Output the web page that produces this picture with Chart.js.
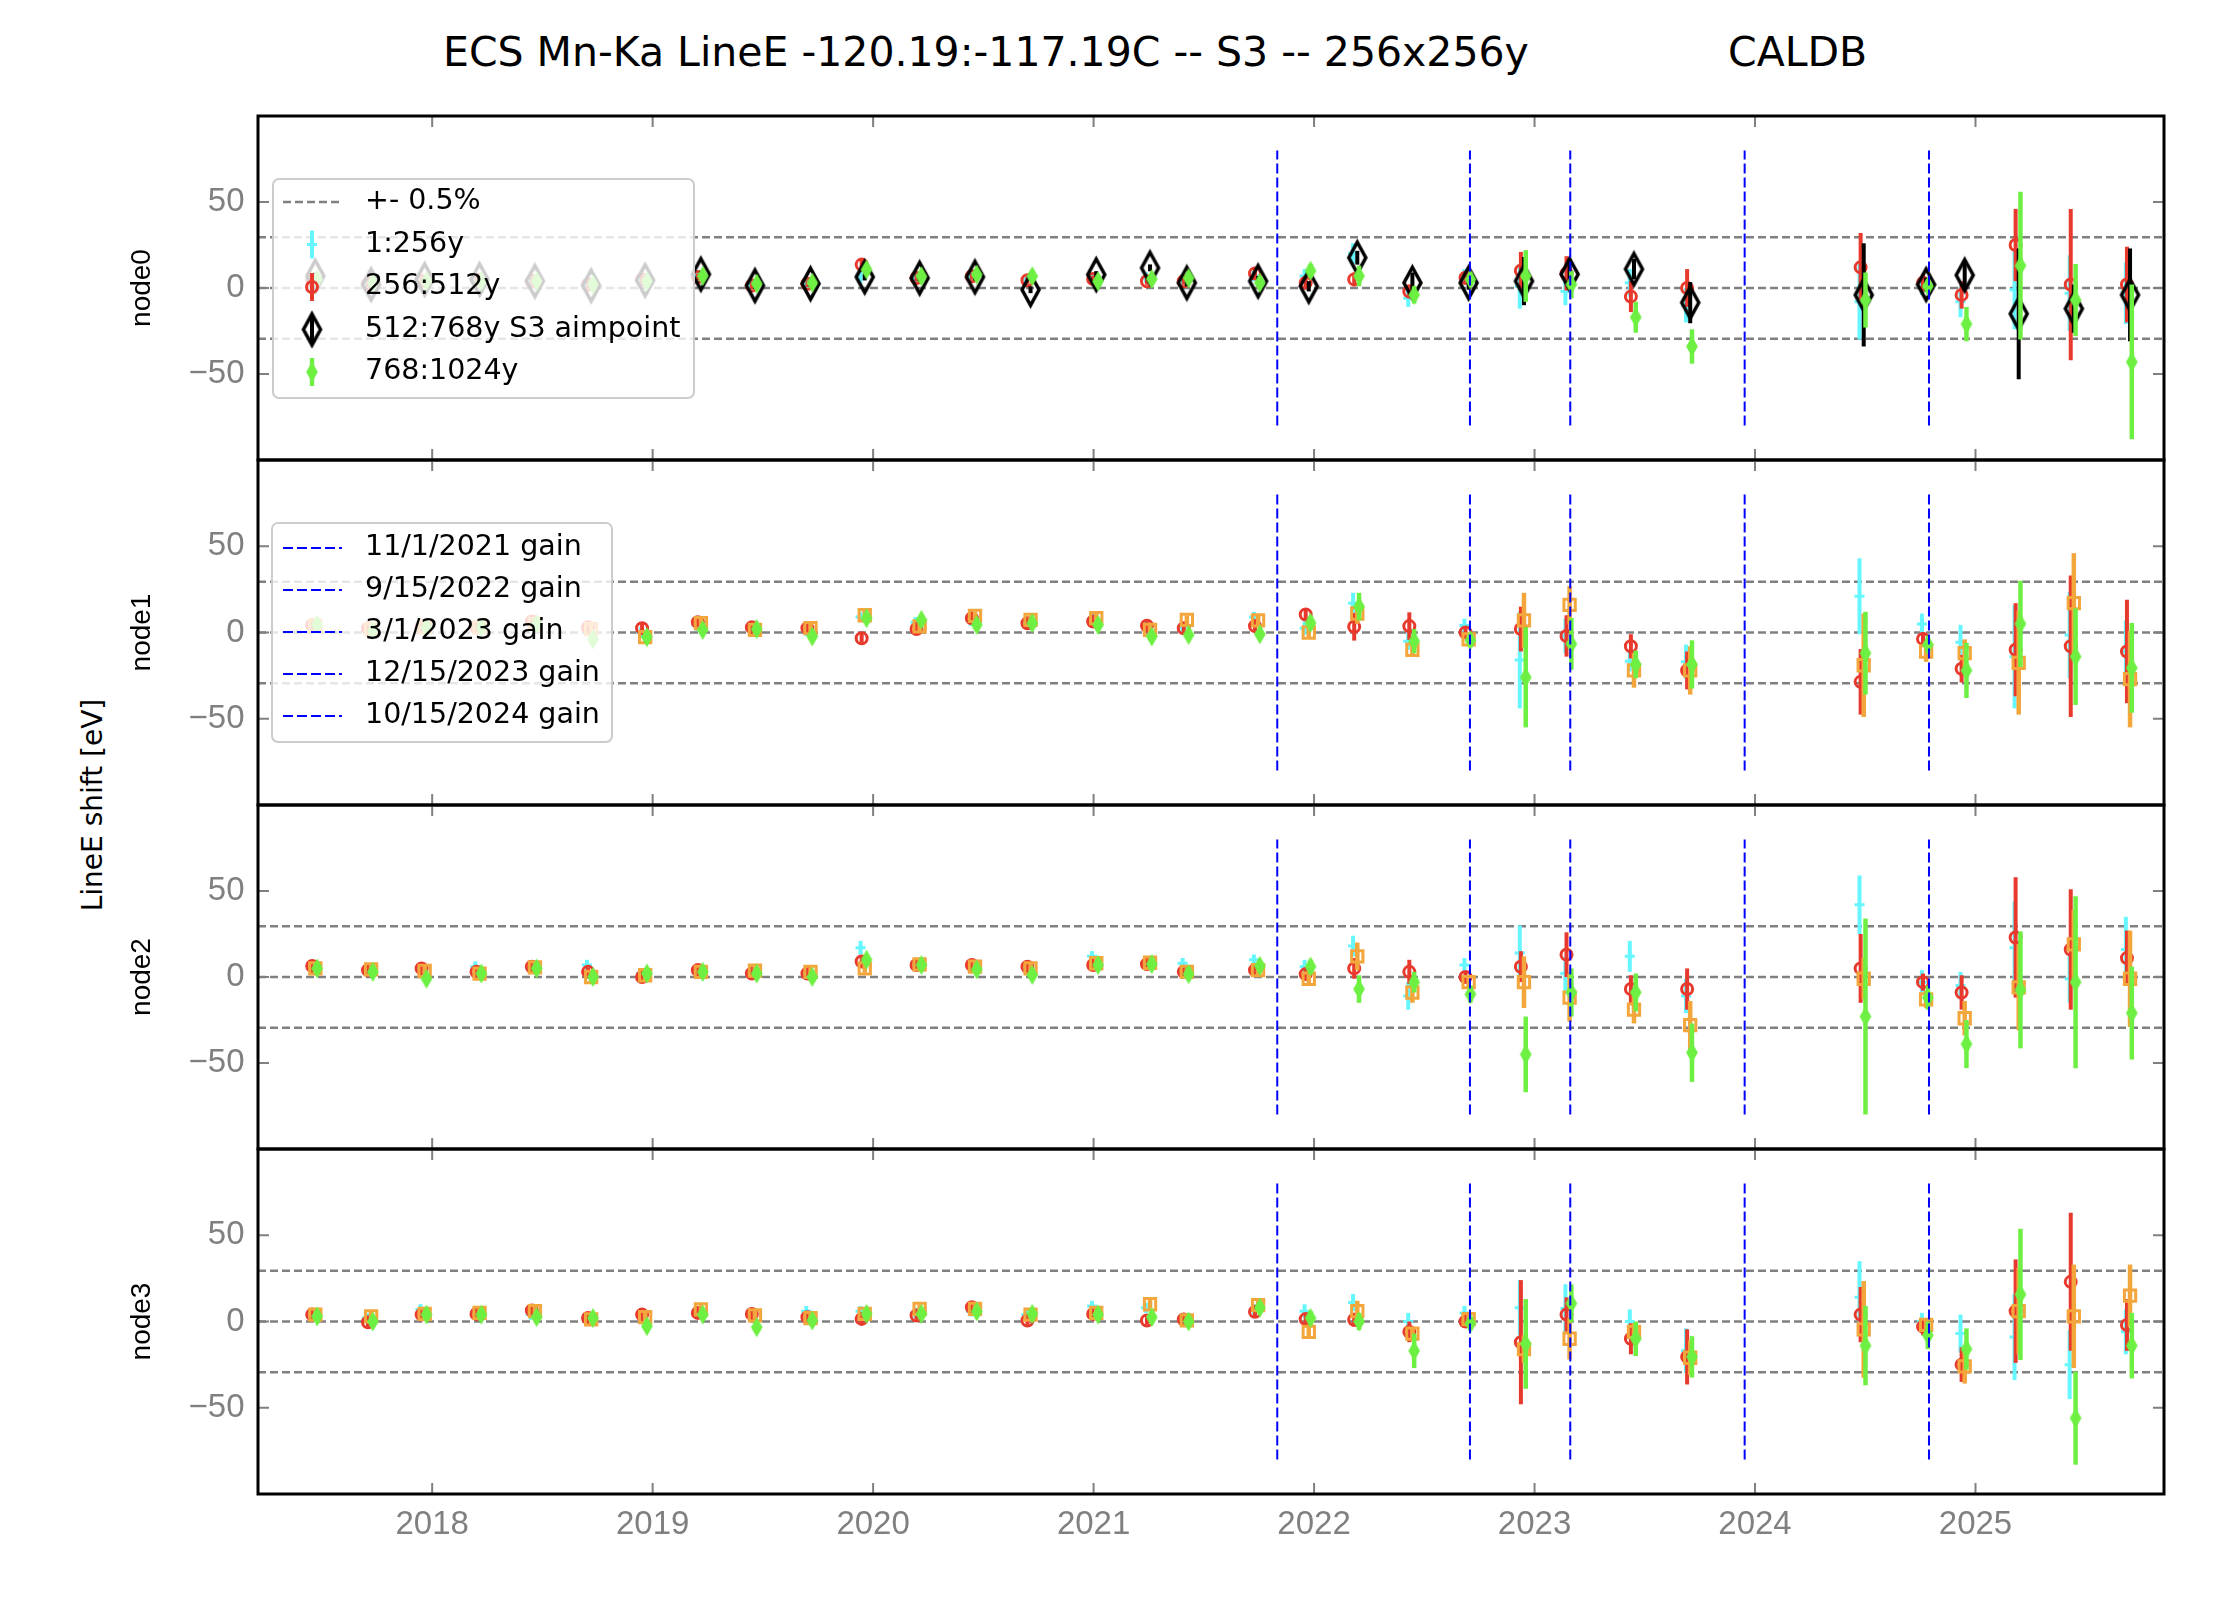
<!DOCTYPE html>
<html>
<head>
<meta charset="utf-8">
<script src="https://cdn.jsdelivr.net/npm/chart.js@4.4.1/dist/chart.umd.min.js"></script>
<style>
  body { margin: 0; background: #fff; width: 2222px; height: 1622px; position: relative; overflow: hidden; font-family: "DejaVu Sans", sans-serif; }
  canvas { position: absolute; left: 0; }
  .ttl { position: absolute; font-size: 41px; line-height: 41px; white-space: pre; color: #000; }
  #ylab { position: absolute; left: 92px; top: 805px; font-size: 28px; white-space: nowrap; transform: translate(-50%, -50%) rotate(-90deg); }
</style>
</head>
<body>
<div class="ttl" style="left:443px; top:32px;">ECS Mn-Ka LineE -120.19:-117.19C -- S3 -- 256x256y</div>
<div class="ttl" style="left:1728px; top:32px;">CALDB</div>
<div id="ylab">LineE shift [eV]</div>
<canvas id="c0"></canvas>
<canvas id="c1"></canvas>
<canvas id="c2"></canvas>
<canvas id="c3"></canvas>
<script>
// observation epochs (decimal year)
const epochs = [2017.464, 2017.717, 2017.96, 2018.209, 2018.46, 2018.715, 2018.96, 2019.213, 2019.458, 2019.71,
  2019.956, 2020.205, 2020.456, 2020.708, 2021.006, 2021.25, 2021.417, 2021.74, 2021.97, 2022.19,
  2022.44, 2022.695, 2022.946, 2023.153, 2023.445, 2023.70, 2024.487, 2024.77, 2024.945, 2025.19,
  2025.44, 2025.695];

const xTickYears = [2018, 2019, 2020, 2021, 2022, 2023, 2024, 2025];
const yTickValues = [-50, 0, 50];
const halfPercent = [-29.49, 0, 29.49];
const gainDates = [2021.833, 2022.707, 2023.162, 2023.953, 2024.789];
const gainLabels = ["11/1/2021 gain", "9/15/2022 gain", "3/1/2023 gain", "12/15/2023 gain", "10/15/2024 gain"];
const nodeNames = ["node0", "node1", "node2", "node3"];

// node0: 1:256y, 256:512y, 512:768y (S3 aimpoint), 768:1024y
const n0c  = [5, 3, 5, 5, 4, 2, 4, 6, 2, 3, 7, 6, 6, 5, 6, 6, 5, 7, 7, 20, -6, 7, 1, -2, 3, -10, -8, 1, -8, -1, -3, -3];
const n0cE = [3, 3, 3, 3, 3, 3, 3, 3, 3, 3, 4, 3, 3, 3, 3, 3, 3, 3, 4, 6, 5, 4, 13, 8, 8, 10, 22, 5, 9, 23, 22, 18];
const n0r  = [4, 2.5, 4, 5, 4, 2, 5, 6.4, 1.4, 2.5, 13.6, 5.8, 6.8, 4.5, 5.2, 3.9, 3.9, 8.5, 3, 5, -2, 6, 10, 8.5, -5, 0, 12, 3, -4, 25, 2, 2];
const n0rE = [2, 2, 2, 2, 2, 2, 2, 2, 2, 2, 3, 2, 2, 2, 2, 2, 2, 3, 3, 4, 4, 4, 11, 10, 9, 11, 20, 5, 8, 21, 44, 22];
const n0k  = [7, 2, 5, 5, 4, 1.4, 4.5, 8, 1.4, 2.5, 6.4, 5.8, 6.4, -1, 7.8, 11.7, 3, 4, 1, 17.6, 3, 3, 4, 8, 11, -8.5, -4, 2, 7.5, -15, -12, -4];
const n0kE = [2, 2, 2, 2, 2, 2, 2, 2, 2, 2, 2, 2, 2, 2, 2, 2, 2, 3, 3, 4, 6, 4, 14, 9, 6, 12, 30, 4, 8, 38, 14, 27];
const n0g  = [5, 3, 4, 4, 4, 2, 4, 7, 2.5, 3, 10.7, 6.8, 7.8, 6.8, 3.9, 5.2, 5.8, 3, 10, 7, -4, 5, 7, 2, -17, -34, -7, 1, -21, 13, -7, -43];
const n0gE = [2, 2, 2, 2, 2, 2, 2, 2, 2, 2, 3, 2, 2, 2, 2, 2, 2, 3, 4, 6, 5, 4, 15, 8, 9, 10, 16, 4, 10, 43, 21, 45];

// node1
const n1c  = [4, 2, 3, 3, 5, 2, 0, 4, 2, 1, 9, 6, 7, 6, 8, 4, 3, 9, 2.5, 17, -5, 4, -16, -2, -16.6, -17, 21, 5, -5.6, -14, -1.5, -11];
const n1cE = [3, 3, 3, 3, 3, 3, 3, 3, 3, 3, 3, 3, 3, 3, 3, 3, 3, 3, 4, 6, 5, 4, 28, 10, 6, 10, 22, 6, 10, 30, 25, 18];
const n1r  = [4.4, 2.5, 3.5, 3, 6.4, 3, 2.5, 6, 3, 2.5, -3.3, 2, 8.3, 5.4, 6.4, 3.9, 2.5, 3.7, 10.4, 3.3, 3.7, 0, 2, -2, -8, -22, -28.6, -3.7, -21, -10, -8, -11];
const n1rE = [2.5, 2.5, 2.5, 2.5, 2.5, 2.5, 2.5, 2.5, 2.5, 2.5, 2.5, 2.5, 2.5, 2.5, 2.5, 2.5, 2.5, 3, 3, 8, 8, 3, 13, 12, 7, 11, 19, 4, 8, 27, 41, 30];
const n1o  = [4, 2, 3, 3, 5, 2, -2.7, 5.4, 1.5, 2.5, 10, 3.5, 9.6, 7.3, 8.3, 1.5, 7.3, 7, 0, 11, -10, -4, 7, 16, -22, -22, -19, -11, -12, -17.6, 17, -27];
const n1oE = [2.5, 2.5, 2.5, 2.5, 2.5, 2.5, 2.5, 2.5, 2.5, 2.5, 2.5, 2.5, 2.5, 2.5, 2.5, 2.5, 2.5, 3, 3, 6, 4, 3, 16, 11, 10, 14, 30, 6, 8, 30, 29, 28];
const n1g  = [4.4, 1, 3, 3, 5, -4, -2.7, 1.5, 2, -2.3, 8.3, 7.3, 4.4, 5.4, 4.4, -2.3, -1.4, -1, 5.6, 15, -5, -4.5, -26, -6.6, -18.5, -18.5, -12, -7, -22, 5, -14, -20.5];
const n1gE = [2.5, 2.5, 2.5, 2.5, 2.5, 2.5, 2.5, 2.5, 2.5, 2.5, 2.5, 2.5, 2.5, 2.5, 2.5, 2.5, 2.5, 3, 4, 8, 7, 4, 29, 15, 8, 14, 24, 5, 16, 25, 28, 26];

// node2
const n2c  = [5, 4, 4, 6, 5, 7, 2, 4, 3, 2, 17, 7, 6, 5, 12, 7, 8, 10, 6, 18, -11, 7, 14, 2, 12, -11, 42, -3, -5, 17, -1, 16];
const n2cE = [3, 3, 3, 3, 3, 3, 3, 3, 3, 3, 4, 3, 3, 3, 3, 3, 3, 3, 4, 6, 8, 4, 16, 10, 9, 10, 17, 7, 8, 27, 14, 19];
const n2r  = [6.4, 4, 5, 3, 6, 3, 0, 4, 2, 2, 9, 7, 7, 6, 7, 7.5, 3, 4, 1.7, 5, 3, 0, 6, 13, -7, -7, 5, -3, -9, 23, 16, 11];
const n2rE = [2.5, 2.5, 2.5, 2.5, 2.5, 2.5, 2.5, 2.5, 2.5, 2.5, 2.5, 2.5, 2.5, 2.5, 2.5, 2.5, 2.5, 3, 3, 6, 7, 3, 9, 13, 8, 12, 20, 5, 10, 35, 35, 16];
const n2o  = [5, 4.4, 3.5, 2, 5.6, 0, 1, 3, 3.7, 3, 5, 7.3, 6, 5, 8, 8.3, 3, 4, -1, 12, -9, -3, -3, -12, -19, -28, -1, -13, -24, -6, 19, -1];
const n2oE = [2.5, 2.5, 2.5, 2.5, 2.5, 2.5, 2.5, 2.5, 2.5, 2.5, 2.5, 2.5, 2.5, 2.5, 2.5, 2.5, 2.5, 3, 3, 8, 6, 4, 15, 14, 8, 14, 12, 5, 10, 25, 20, 28];
const n2g  = [5, 3, -1, 2, 5, 0, 2, 3, 2, 0, 10, 7, 4.4, 1.2, 7, 7.5, 1.7, 6.4, 6, -7, -3, -10, -45, -9, -9, -44, -23, -12, -39, -7.5, -3, -21];
const n2gE = [2.5, 2.5, 2.5, 2.5, 2.5, 2.5, 2.5, 2.5, 2.5, 2.5, 2.5, 2.5, 2.5, 2.5, 2.5, 2.5, 2.5, 3, 4, 8, 6, 5, 22, 14, 11, 17, 57, 7, 14, 34, 50, 27];

// node3
const n3c  = [4, 2, 7, 5, 4, 2, 3, 5, 4, 6, 6, 5, 6, 4, 9, 8, 2, 7, 6, 11, 0, 5, 8, 7.6, 0, -17, 14, 0, -7, -9, -25, -6];
const n3cE = [3, 3, 3, 3, 3, 3, 3, 3, 3, 3, 3, 3, 3, 3, 3, 3, 3, 3, 4, 5, 5, 4, 16, 14, 7, 13, 21, 5, 11, 25, 20, 13];
const n3r  = [4, -0.4, 4, 4.4, 6.4, 2, 4, 5, 4.4, 2.5, 1.5, 3.5, 8.3, 0.6, 4.4, 0.6, 1.2, 5.6, 1.4, 1, -6, 0, -12, 4, -10, -20.5, 4, -3, -25, 6, 23, -2];
const n3rE = [2.5, 2.5, 2.5, 2.5, 2.5, 2.5, 2.5, 2.5, 2.5, 2.5, 2.5, 2.5, 2.5, 2.5, 2.5, 2.5, 2.5, 3, 3, 4, 6, 3, 36, 10, 9, 16, 16, 5, 10, 30, 40, 15];
const n3o  = [4, 3, 4.4, 5, 6, 1.2, 2.5, 7, 3.5, 2, 4.4, 7.3, 7.3, 4, 5, 10, 0.6, 9.5, -6, 6, -7, 1.4, -16, -10, -6, -21, -4.6, -2, -26, 6, 3, 15];
const n3oE = [2.5, 2.5, 2.5, 2.5, 2.5, 2.5, 2.5, 2.5, 2.5, 2.5, 2.5, 2.5, 2.5, 2.5, 2.5, 2.5, 2.5, 3, 3, 6, 4, 3, 8, 12, 5, 10, 28, 4, 10, 25, 30, 18];
const n3g  = [3, 0, 4, 4, 2.5, 2, -2.7, 4, -3.3, 0.6, 4.4, 4.4, 5.8, 4.4, 4, 2.5, 0, 8, 2, 0, -17, -1, -13, 10.5, -10, -20.5, -14, -8, -16, 15.7, -56, -14];
const n3gE = [2.5, 2.5, 2.5, 2.5, 2.5, 2.5, 2.5, 2.5, 2.5, 2.5, 2.5, 2.5, 2.5, 2.5, 2.5, 2.5, 2.5, 3, 4, 5, 10, 4, 26, 11, 10, 12, 23, 8, 12, 38, 27, 19];

const X_MIN = 2017.21, X_MAX = 2025.855;
const panelTops = [116, 460, 805, 1149];
const panelBottoms = [460, 805, 1149, 1494];

// tall thin diamond marker drawn once into a small canvas
function diamond(w, h, stroke, fill, lw) {
  const c = document.createElement("canvas");
  c.width = Math.ceil(w + lw * 4);
  c.height = Math.ceil(h + lw * 5);
  const g = c.getContext("2d");
  const cx = c.width / 2, cy = c.height / 2;
  g.beginPath();
  g.moveTo(cx, cy - h / 2);
  g.lineTo(cx + w / 2, cy);
  g.lineTo(cx, cy + h / 2);
  g.lineTo(cx - w / 2, cy);
  g.closePath();
  if (fill) { g.fillStyle = fill; g.fill(); }
  g.lineJoin = "miter";
  g.lineWidth = lw;
  g.strokeStyle = stroke;
  g.stroke();
  return c;
}

const CYAN = "#66f6ff", RED = "#e8392d", ORANGE = "#f2a63c", GREEN = "#6ef043", BLACK = "#000000";
const blackDiamond = diamond(17, 31, BLACK, null, 3.5);
const greenDiamond = diamond(10, 17, GREEN, GREEN, 1.5);

const styles = {
  cyan:   { color: CYAN, pointStyle: "cross", radius: 5, bw: 3, bg: CYAN, bar: 4, dx: -0.013, order: 4 },
  red:    { color: RED, pointStyle: "circle", radius: 5.5, bw: 3, bg: "rgba(0,0,0,0)", bar: 4, dx: -0.008, order: 3 },
  black:  { color: BLACK, pointStyle: blackDiamond, radius: 10, bw: 3, bg: "rgba(0,0,0,0)", bar: 4, dx: 0.006, order: 2 },
  orange: { color: ORANGE, pointStyle: "rect", radius: 8, bw: 3, bg: "rgba(0,0,0,0)", bar: 4.5, dx: 0.006, order: 2 },
  green:  { color: GREEN, pointStyle: greenDiamond, radius: 6, bw: 1, bg: GREEN, bar: 4.5, dx: 0.014, order: 1 }
};

function series(label, vals, errs, st) {
  return {
    label,
    data: vals.map((v, i) => ({ x: epochs[i] + st.dx, y: v })),
    err: errs,
    barWidth: st.bar,
    showLine: false,
    pointStyle: st.pointStyle,
    pointRadius: st.radius,
    pointHoverRadius: st.radius,
    pointBorderWidth: st.bw,
    borderColor: st.color,
    backgroundColor: st.bg,
    order: st.order
  };
}

function refLines() {
  const out = [];
  halfPercent.forEach(v => out.push({
    data: [{ x: X_MIN, y: v }, { x: X_MAX, y: v }],
    showLine: true, pointRadius: 0, borderColor: "#808080", borderWidth: 2.5, borderDash: [8, 4], order: 10
  }));
  // gain lines sit on top of the data points
  gainDates.forEach(d => out.push({
    data: [{ x: d, y: -80 }, { x: d, y: 80 }],
    showLine: true, pointRadius: 0, borderColor: "#0000ff", borderWidth: 2, borderDash: [10, 4], order: -1
  }));
  return out;
}

const nodeData = [
  [series("1:256y", n0c, n0cE, styles.cyan), series("256:512y", n0r, n0rE, styles.red),
   series("512:768y S3 aimpoint", n0k, n0kE, styles.black), series("768:1024y", n0g, n0gE, styles.green)],
  [series("1:256y", n1c, n1cE, styles.cyan), series("256:512y", n1r, n1rE, styles.red),
   series("512:768y", n1o, n1oE, styles.orange), series("768:1024y", n1g, n1gE, styles.green)],
  [series("1:256y", n2c, n2cE, styles.cyan), series("256:512y", n2r, n2rE, styles.red),
   series("512:768y", n2o, n2oE, styles.orange), series("768:1024y", n2g, n2gE, styles.green)],
  [series("1:256y", n3c, n3cE, styles.cyan), series("256:512y", n3r, n3rE, styles.red),
   series("512:768y", n3o, n3oE, styles.orange), series("768:1024y", n3g, n3gE, styles.green)]
];

function drawMark(ctx, ds, x, y) {
  const ps = ds.pointStyle, r = ds.pointRadius;
  ctx.save();
  ctx.strokeStyle = ds.borderColor;
  ctx.fillStyle = ds.backgroundColor;
  ctx.lineWidth = ds.pointBorderWidth;
  if (ps instanceof HTMLCanvasElement) {
    ctx.drawImage(ps, x - ps.width / 2, y - ps.height / 2);
  } else if (ps === "circle") {
    ctx.beginPath(); ctx.arc(x, y, r, 0, Math.PI * 2); ctx.stroke();
  } else if (ps === "rect") {
    const s = r * Math.SQRT1_2; ctx.strokeRect(x - s, y - s, 2 * s, 2 * s);
  } else if (ps === "cross") {
    ctx.beginPath(); ctx.moveTo(x - r, y); ctx.lineTo(x + r, y); ctx.moveTo(x, y - r); ctx.lineTo(x, y + r); ctx.stroke();
  }
  ctx.restore();
}

// error bars, frame, inward ticks and the in-axes legend
const deco = {
  id: "deco",
  beforeDatasetDraw(chart, args) {
    const ds = chart.data.datasets[args.index];
    if (!ds.err) return;
    const ctx = chart.ctx, ys = chart.scales.y;
    ctx.save();
    ctx.strokeStyle = ds.borderColor;
    ctx.lineWidth = ds.barWidth;
    args.meta.data.forEach((pt, i) => {
      const v = ds.data[i].y, e = ds.err[i];
      ctx.beginPath();
      ctx.moveTo(pt.x, ys.getPixelForValue(v + e));
      ctx.lineTo(pt.x, ys.getPixelForValue(v - e));
      ctx.stroke();
    });
    ctx.restore();
  },
  afterDatasetsDraw(chart) {
    const ctx = chart.ctx, { left, right, top, bottom } = chart.chartArea;
    const xs = chart.scales.x, ys = chart.scales.y;
    ctx.save();
    ctx.strokeStyle = "#808080";
    ctx.lineWidth = 2;
    ctx.beginPath();
    xTickYears.forEach(t => {
      const px = xs.getPixelForValue(t);
      ctx.moveTo(px, top); ctx.lineTo(px, top + 11);
      ctx.moveTo(px, bottom); ctx.lineTo(px, bottom - 11);
    });
    yTickValues.forEach(t => {
      const py = ys.getPixelForValue(t);
      ctx.moveTo(left, py); ctx.lineTo(left + 11, py);
      ctx.moveTo(right, py); ctx.lineTo(right - 11, py);
    });
    ctx.stroke();
    ctx.strokeStyle = "#000";
    ctx.lineWidth = 3;
    ctx.strokeRect(left, top, right - left, bottom - top);
    ctx.restore();
  },
  afterDraw(chart, args, opts) {
    const lg = opts.legend;
    if (!lg) return;
    const ctx = chart.ctx;
    const top = chart.chartArea.top;
    ctx.save();
    ctx.fillStyle = "rgba(255,255,255,0.8)";
    ctx.strokeStyle = "#cccccc";
    ctx.lineWidth = 2;
    ctx.beginPath();
    ctx.roundRect(lg.x, top + lg.y, lg.w, lg.h, 6);
    ctx.fill();
    ctx.stroke();
    ctx.font = '28.5px "DejaVu Sans"';
    ctx.textBaseline = "middle";
    lg.rows.forEach((row, i) => {
      const y = top + lg.y + lg.first + i * lg.step;
      if (row.ds === undefined) {
        ctx.save();
        ctx.strokeStyle = row.color;
        ctx.lineWidth = row.lw;
        ctx.setLineDash(row.dash);
        ctx.beginPath(); ctx.moveTo(283, y); ctx.lineTo(342, y); ctx.stroke();
        ctx.restore();
      } else {
        const ds = chart.data.datasets[row.ds];
        ctx.save();
        ctx.strokeStyle = ds.borderColor;
        ctx.lineWidth = ds.barWidth;
        ctx.beginPath(); ctx.moveTo(312, y - 14); ctx.lineTo(312, y + 14); ctx.stroke();
        ctx.restore();
        drawMark(ctx, ds, 312, y);
      }
      ctx.fillStyle = "#000";
      ctx.fillText(row.text, 365, y);
    });
    ctx.restore();
  }
};

const legends = [
  { x: 273, y: 63, w: 421, h: 219, first: 23, step: 42.5, rows: [
    { text: "+- 0.5%", color: "#808080", lw: 2.5, dash: [8, 4] },
    { text: "1:256y", ds: 8 }, { text: "256:512y", ds: 9 },
    { text: "512:768y S3 aimpoint", ds: 10 }, { text: "768:1024y", ds: 11 }] },
  { x: 272, y: 63, w: 340, h: 219, first: 25, step: 42, rows: gainLabels.map(t => ({ text: t, color: "#0000ff", lw: 2, dash: [10, 4] })) },
  null,
  null
];

const fmt = v => (v < 0 ? "\u2212" + Math.abs(v) : String(v));

nodeNames.forEach((name, i) => {
  const last = i === nodeNames.length - 1;
  const canvas = document.getElementById("c" + i);
  const padTop = 6, padBottom = last ? 0 : 6, xAxisH = last ? 66 : 0;
  const h = panelBottoms[i] - panelTops[i] + padTop + padBottom + xAxisH;
  canvas.width = 2222; canvas.height = h;
  canvas.style.top = (panelTops[i] - padTop) + "px";
  canvas.style.width = "2222px"; canvas.style.height = h + "px";

  new Chart(canvas, {
    type: "scatter",
    data: { datasets: refLines().concat(nodeData[i]) },
    options: {
      responsive: false,
      animation: false,
      devicePixelRatio: 1,
      events: [],
      layout: { autoPadding: false, padding: { left: 0, right: 2222 - 2164, top: padTop, bottom: padBottom } },
      plugins: { legend: { display: false }, tooltip: { enabled: false }, deco: { legend: legends[i] } },
      scales: {
        x: {
          type: "linear", min: X_MIN, max: X_MAX, display: last,
          grid: { display: false, drawTicks: false }, border: { display: false },
          ticks: { color: "#808080", font: { size: 33 }, padding: 11, maxRotation: 0, autoSkip: false, callback: v => String(v) },
          afterBuildTicks: s => { s.ticks = xTickYears.map(v => ({ value: v })); },
          afterFit: s => { s.height = xAxisH; s.paddingLeft = 0; s.paddingRight = 0; }
        },
        y: {
          min: -100, max: 100,
          grid: { display: false, drawTicks: false }, border: { display: false },
          title: { display: true, text: name, color: "#000", font: { size: 28 }, padding: { top: 125, bottom: 0 } },
          ticks: { color: "#808080", font: { size: 33 }, padding: 13.5, callback: fmt },
          afterBuildTicks: s => { s.ticks = yTickValues.map(v => ({ value: v })); },
          afterFit: s => { s.width = 258; s.paddingTop = 0; s.paddingBottom = 0; }
        }
      }
    },
    plugins: [deco]
  });
});
</script>
</body>
</html>
